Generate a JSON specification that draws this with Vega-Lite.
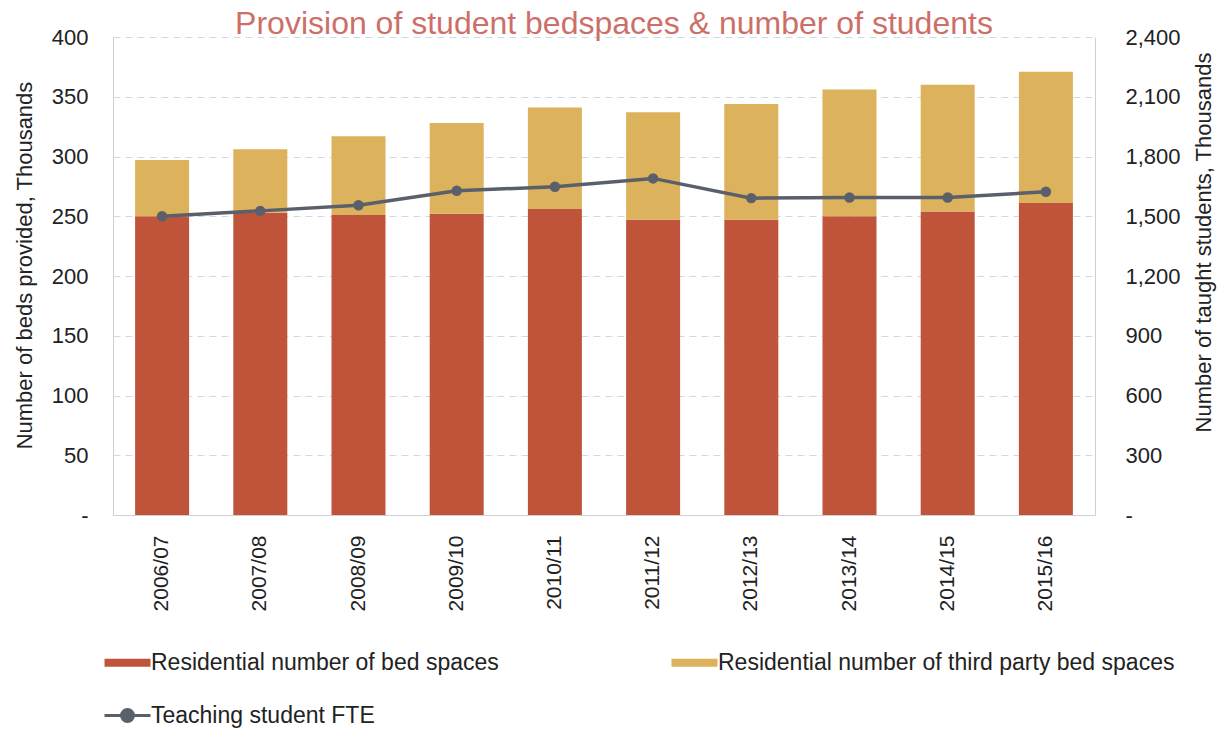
{
  "$schema": "https://vega.github.io/schema/vega-lite/v6.json",
  "width": 982,
  "height": 478,
  "autosize": {"type": "none"},
  "padding": {"left": 113, "top": 37, "right": 131, "bottom": 214},
  "background": "white",
  "title": {
    "text": "Provision of student bedspaces & number of students",
    "font": "Liberation Sans",
    "fontSize": 32,
    "fontWeight": "normal",
    "color": "#cd6f68",
    "anchor": "middle",
    "offset": 5,
    "dx": 10,
    "dy": 20
  },
  "config": {
    "view": {"stroke": null},
    "font": "Liberation Sans"
  },
  "datasets": {
    "beds": [
      {"year": "2006/07", "series": "Residential number of bed spaces", "value": 250},
      {"year": "2006/07", "series": "Residential number of third party bed spaces", "value": 47},
      {"year": "2007/08", "series": "Residential number of bed spaces", "value": 253},
      {"year": "2007/08", "series": "Residential number of third party bed spaces", "value": 53},
      {"year": "2008/09", "series": "Residential number of bed spaces", "value": 251},
      {"year": "2008/09", "series": "Residential number of third party bed spaces", "value": 66},
      {"year": "2009/10", "series": "Residential number of bed spaces", "value": 252},
      {"year": "2009/10", "series": "Residential number of third party bed spaces", "value": 76},
      {"year": "2010/11", "series": "Residential number of bed spaces", "value": 256},
      {"year": "2010/11", "series": "Residential number of third party bed spaces", "value": 85},
      {"year": "2011/12", "series": "Residential number of bed spaces", "value": 247},
      {"year": "2011/12", "series": "Residential number of third party bed spaces", "value": 90},
      {"year": "2012/13", "series": "Residential number of bed spaces", "value": 247},
      {"year": "2012/13", "series": "Residential number of third party bed spaces", "value": 97},
      {"year": "2013/14", "series": "Residential number of bed spaces", "value": 250},
      {"year": "2013/14", "series": "Residential number of third party bed spaces", "value": 106},
      {"year": "2014/15", "series": "Residential number of bed spaces", "value": 254},
      {"year": "2014/15", "series": "Residential number of third party bed spaces", "value": 106},
      {"year": "2015/16", "series": "Residential number of bed spaces", "value": 261},
      {"year": "2015/16", "series": "Residential number of third party bed spaces", "value": 110}
    ],
    "fte": [
      {"year": "2006/07", "series": "Teaching student FTE", "fte": 1500},
      {"year": "2007/08", "series": "Teaching student FTE", "fte": 1527},
      {"year": "2008/09", "series": "Teaching student FTE", "fte": 1555},
      {"year": "2009/10", "series": "Teaching student FTE", "fte": 1628},
      {"year": "2010/11", "series": "Teaching student FTE", "fte": 1648},
      {"year": "2011/12", "series": "Teaching student FTE", "fte": 1690},
      {"year": "2012/13", "series": "Teaching student FTE", "fte": 1591},
      {"year": "2013/14", "series": "Teaching student FTE", "fte": 1594},
      {"year": "2014/15", "series": "Teaching student FTE", "fte": 1594},
      {"year": "2015/16", "series": "Teaching student FTE", "fte": 1623}
    ]
  },
  "layer": [
    {
      "data": {"name": "beds"},
      "mark": {"type": "bar"},
      "encoding": {
        "x": {
          "field": "year",
          "type": "ordinal",
          "scale": {"paddingInner": 0.45, "paddingOuter": 0.225},
          "axis": {
            "title": null,
            "labelAngle": -90,
            "labelPadding": 20,
            "ticks": false,
            "labelFontSize": 21,
            "labelColor": "#222222",
            "domainColor": "#d0d0d0",
            "grid": false
          }
        },
        "y": {
          "field": "value",
          "type": "quantitative",
          "stack": "zero",
          "scale": {"domain": [0, 400]},
          "axis": {
            "title": "Number of beds provided, Thousands",
            "values": [0, 50, 100, 150, 200, 250, 300, 350, 400],
            "labelExpr": "datum.value === 0 ? '-' : datum.label",
            "ticks": false,
            "labelPadding": 25,
            "labelFontSize": 22,
            "labelColor": "#222222",
            "grid": true,
            "gridDash": [7, 5],
            "gridColor": "#d3d9e3",
            "domainColor": "#cfcfcf",
            "titleFontSize": 22,
            "titleFontWeight": "normal",
            "titleColor": "#222222",
            "titleAngle": -90,
            "titleAlign": "center",
            "titleBaseline": "middle",
            "titleX": -89,
            "titleY": 228
          }
        },
        "color": {
          "field": "series",
          "type": "nominal",
          "scale": {
            "domain": ["Residential number of bed spaces", "Residential number of third party bed spaces", "Teaching student FTE"],
            "range": ["#c0543b", "#dcb25c", "#5a606b"]
          },
          "legend": {
            "title": null,
            "orient": "none",
            "direction": "horizontal",
            "legendX": 3,
            "legendY": 614,
            "columns": 2,
            "columnPadding": 172,
            "rowPadding": 28,
            "labelFontSize": 23,
            "labelColor": "#222222",
            "labelOffset": 12,
            "labelLimit": 700,
            "symbolSize": 2116,
            "encode": {
              "symbols": {
                "update": {
                  "shape": {"signal": "datum.value === 'Teaching student FTE' ? 'M-1,0H1M-0.26,0A0.26,0.26 0 1,0 0.26,0A0.26,0.26 0 1,0 -0.26,0' : 'M-1,-0.17H1V0.17H-1Z'"},
                  "fill": {"scale": "color", "field": "value"},
                  "stroke": {"scale": "color", "field": "value"},
                  "strokeWidth": {"signal": "datum.value === 'Teaching student FTE' ? 3 : 0"},
                  "opacity": {"value": 1},
                  "fillOpacity": {"value": 1}
                }
              }
            }
          }
        },
        "order": {"field": "series", "sort": "ascending"}
      }
    },
    {
      "data": {"name": "fte"},
      "mark": {"type": "line", "strokeWidth": 3.5, "point": {"filled": true, "size": 110}},
      "encoding": {
        "x": {"field": "year", "type": "ordinal"},
        "y": {
          "field": "fte",
          "type": "quantitative",
          "scale": {"domain": [0, 2400]},
          "axis": {
            "orient": "right",
            "title": "Number of taught students, Thousands",
            "values": [0, 300, 600, 900, 1200, 1500, 1800, 2100, 2400],
            "labelExpr": "datum.value === 0 ? '-' : format(datum.value, ',')",
            "ticks": false,
            "labelPadding": 30,
            "labelFontSize": 22,
            "labelColor": "#222222",
            "grid": false,
            "domainColor": "#cfcfcf",
            "titleFontSize": 22,
            "titleFontWeight": "normal",
            "titleColor": "#222222",
            "titleAngle": -90,
            "titleAlign": "center",
            "titleBaseline": "middle",
            "titleX": 108,
            "titleY": 205
          }
        },
        "color": {"field": "series", "type": "nominal"}
      }
    }
  ],
  "resolve": {"scale": {"y": "independent"}}
}
